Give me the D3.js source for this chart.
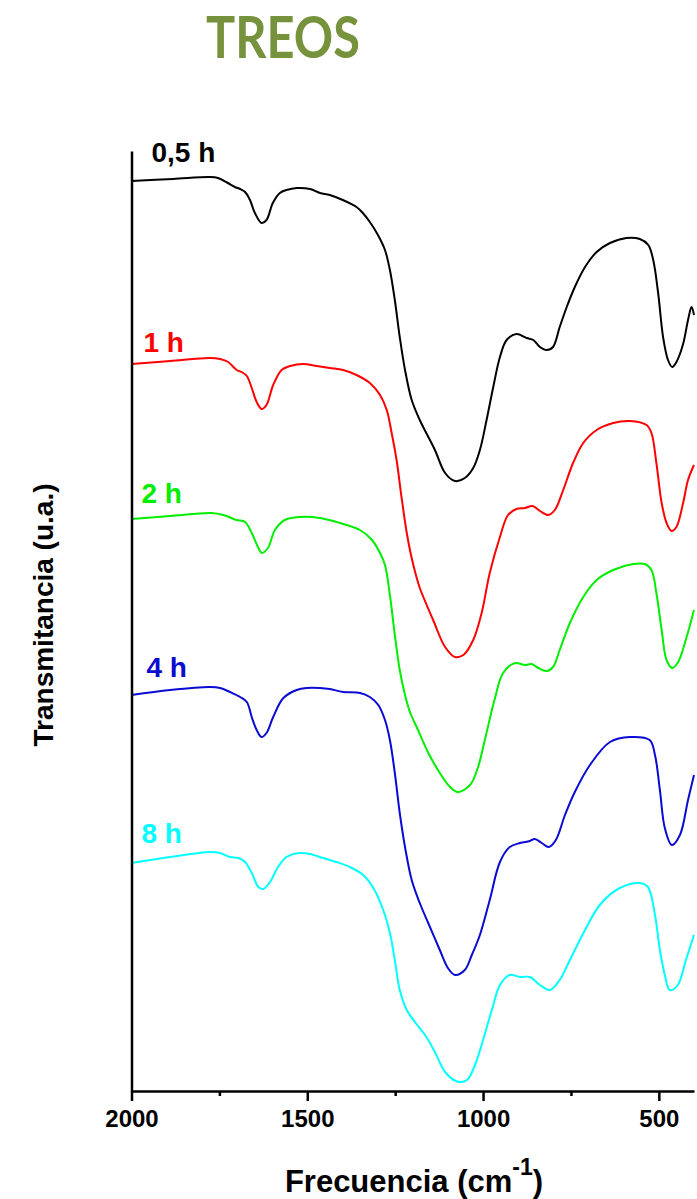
<!DOCTYPE html>
<html>
<head>
<meta charset="utf-8">
<script src="https://cdn.jsdelivr.net/npm/d3@7"></script>
<style>
  html, body { margin: 0; padding: 0; background: #ffffff; }
  svg { display: block; }
</style>
</head>
<body>
<svg id="chart" width="697" height="1199"></svg>
<script>
// FTIR spectra, TREOS samples at different times
// each series: [wavenumber (cm-1), transmittance (a.u., stacked offset)]
const seriesNames = ["0,5 h", "1 h", "2 h", "4 h", "8 h"];

const s05 = [
  [2000, 91.0], [1882, 91.2], [1777, 91.4], [1754, 91.3], [1726, 90.8], [1706, 90.4],
  [1691, 90.2], [1677, 89.9], [1663, 89.1], [1649, 87.8], [1630, 86.8], [1616, 87.1],
  [1598, 88.8], [1578, 89.8], [1559, 90.1], [1530, 90.3], [1492, 90.2], [1464, 89.8],
  [1436, 89.6], [1399, 89.1], [1360, 88.4], [1342, 87.8], [1322, 86.9], [1299, 85.6],
  [1279, 84.1], [1265, 82.1], [1251, 79.1], [1237, 75.4], [1222, 72.1], [1203, 69.1],
  [1180, 67.1], [1137, 64.1], [1108, 61.8], [1080, 61.0], [1052, 61.3], [1028, 62.3],
  [1009, 64.1], [990, 67.1], [971, 70.4], [952, 73.4], [933, 75.1], [905, 75.7],
  [876, 75.3], [857, 75.1], [838, 74.4], [819, 74.1], [801, 74.4], [782, 76.4],
  [762, 78.4], [739, 80.4], [710, 82.4], [677, 83.9], [639, 84.8], [592, 85.3],
  [554, 85.2], [530, 84.6], [516, 83.1], [502, 79.8], [488, 75.4], [474, 73.1],
  [462, 72.4], [450, 72.9], [431, 74.7], [417, 77.1], [407, 78.4], [400, 77.6]
];

const s1 = [
  [2000, 72.7], [1890, 73.0], [1777, 73.3], [1748, 73.2], [1725, 72.9], [1701, 72.1],
  [1687, 71.9], [1672, 71.5], [1658, 70.3], [1644, 68.9], [1630, 68.2], [1616, 68.6],
  [1597, 70.6], [1573, 72.1], [1549, 72.5], [1511, 72.7], [1473, 72.5], [1436, 72.3],
  [1398, 72.1], [1360, 71.6], [1322, 70.8], [1293, 69.6], [1274, 68.1], [1260, 65.8],
  [1246, 63.1], [1232, 59.4], [1217, 55.8], [1205, 53.6], [1191, 51.6], [1180, 50.3],
  [1142, 47.1], [1108, 44.4], [1080, 43.4], [1056, 43.6], [1028, 45.1], [1004, 47.8],
  [981, 51.8], [952, 55.4], [929, 57.6], [905, 58.2], [881, 58.3], [859, 58.5],
  [838, 58.0], [815, 57.6], [796, 58.1], [772, 60.1], [744, 62.8], [715, 64.8],
  [677, 66.1], [630, 66.8], [582, 67.0], [535, 66.6], [521, 65.8], [507, 62.8],
  [492, 58.8], [478, 56.8], [464, 56.0], [450, 56.4], [431, 58.8], [417, 61.1], [400, 62.6]
];

const s2 = [
  [2000, 57.2], [1890, 57.5], [1772, 57.8], [1739, 57.6], [1701, 57.1], [1677, 56.9],
  [1658, 55.8], [1639, 54.3], [1629, 53.8], [1612, 54.3], [1592, 56.1], [1564, 57.1],
  [1521, 57.4], [1464, 57.3], [1407, 56.8], [1350, 56.1], [1316, 55.1], [1293, 53.8],
  [1279, 52.6], [1265, 49.6], [1251, 45.6], [1237, 42.1], [1222, 39.6], [1208, 37.9],
  [1185, 36.1], [1157, 33.9], [1123, 31.8], [1094, 30.4], [1072, 29.9], [1037, 30.6],
  [1015, 32.3], [995, 35.1], [966, 39.3], [943, 41.8], [909, 42.8], [881, 42.6],
  [862, 42.7], [843, 42.3], [819, 42.0], [801, 42.4], [782, 44.1], [753, 46.8],
  [715, 49.4], [677, 51.1], [630, 52.1], [573, 52.7], [540, 52.7], [521, 52.1],
  [507, 49.8], [492, 46.1], [478, 43.1], [462, 42.3], [445, 42.9], [421, 45.4], [400, 48.1]
];

const s4 = [
  [2000, 39.6], [1890, 40.1], [1777, 40.4], [1748, 40.3], [1720, 39.9], [1691, 39.4],
  [1672, 38.9], [1658, 37.4], [1644, 36.1], [1630, 35.4], [1616, 35.8], [1597, 37.4],
  [1568, 39.3], [1530, 40.1], [1502, 40.3], [1464, 40.3], [1436, 40.2], [1398, 39.9],
  [1350, 39.8], [1322, 39.4], [1298, 38.6], [1279, 37.1], [1265, 35.1], [1251, 31.8],
  [1237, 27.8], [1222, 24.4], [1203, 21.1], [1180, 18.8], [1156, 16.8], [1123, 14.1],
  [1100, 12.3], [1080, 11.6], [1052, 12.1], [1032, 13.6], [1009, 15.6], [981, 19.1],
  [952, 22.9], [924, 24.4], [895, 24.8], [867, 25.0], [853, 25.2], [833, 24.8],
  [813, 24.4], [793, 25.1], [767, 27.6], [739, 29.9], [696, 32.6], [639, 34.9],
  [582, 35.4], [526, 35.1], [511, 33.6], [497, 30.1], [483, 26.3], [463, 24.6],
  [440, 25.6], [417, 29.1], [400, 31.6]
];

const s8 = [
  [2000, 22.8], [1890, 23.4], [1777, 23.9], [1748, 23.8], [1720, 23.4], [1696, 23.3],
  [1677, 22.9], [1658, 21.8], [1639, 20.4], [1625, 20.2], [1606, 20.9], [1583, 22.4],
  [1559, 23.4], [1521, 23.8], [1492, 23.7], [1455, 23.3], [1417, 22.9], [1379, 22.4],
  [1341, 21.6], [1312, 20.3], [1284, 18.1], [1265, 15.8], [1251, 13.1], [1237, 10.1],
  [1217, 8.1], [1194, 6.9], [1165, 5.6], [1137, 3.9], [1108, 1.9], [1074, 0.95],
  [1046, 1.1], [1023, 2.6], [1000, 5.1], [975, 8.1], [952, 10.6], [924, 11.6],
  [895, 11.4], [867, 11.4], [838, 10.6], [810, 10.1], [782, 11.1], [753, 13.1],
  [710, 16.1], [668, 18.6], [611, 20.3], [554, 20.8], [531, 20.4], [511, 17.6],
  [497, 14.1], [483, 11.6], [469, 10.1], [446, 10.6], [423, 13.1], [400, 15.6]
];

const seriesData = [s05, s1, s2, s4, s8];
const majorTicks = [2000, 1500, 1000, 500];
const minorTicks = [1750, 1250, 750];

// ---- layout ----
const svg = d3.select("#chart");
const colors = ["#000000", "#ff0000", "#00ee00", "#0a0ad2", "#00ffff"];
const fontArial = "'Liberation Sans', Arial, sans-serif";

const x = d3.scaleLinear().domain([2000, 400]).range([131.5, 694]);
const y = d3.scaleLinear().domain([0, 94]).range([1091, 151]);

// title, narrowed horizontally to a fixed width
const titleG = svg.append("g");
const title = titleG.append("text")
  .attr("x", 0).attr("y", 0)
  .attr("text-anchor", "middle")
  .attr("font-family", "Lato, 'Open Sans', sans-serif")
  .attr("font-weight", 700)
  .attr("font-size", 57)
  .attr("fill", "#76923c")
  .text("TREOS");
const titleW = title.node().getComputedTextLength() || 154;
titleG.attr("transform", `translate(283,58) scale(${154 / titleW},1)`);

// spectra
const line = d3.line()
  .x(d => x(d[0]))
  .y(d => y(d[1]))
  .curve(d3.curveCatmullRom.alpha(0.5));

svg.append("g")
  .selectAll("path")
  .data(seriesData)
  .join("path")
  .attr("d", line)
  .attr("fill", "none")
  .attr("stroke", (d, i) => colors[i])
  .attr("stroke-width", 2)
  .attr("stroke-linejoin", "round");

// series labels, placed above the start of each trace
const labelOffsets = [[20, 19], [12, 12], [10, 16], [15, 18], [10, 20]];
svg.append("g")
  .selectAll("text")
  .data(seriesData)
  .join("text")
  .attr("x", (d, i) => x(d[0][0]) + labelOffsets[i][0])
  .attr("y", (d, i) => y(d[0][1]) - labelOffsets[i][1])
  .attr("font-family", fontArial)
  .attr("font-weight", 700)
  .attr("font-size", 28)
  .attr("fill", (d, i) => colors[i])
  .text((d, i) => seriesNames[i]);

// axes
const xAxis = svg.append("g")
  .attr("transform", `translate(0,${y(0)})`)
  .call(d3.axisBottom(x).tickValues(majorTicks).tickSize(10).tickSizeOuter(0)
    .tickFormat(d3.format("d")));
xAxis.select(".domain").attr("stroke-width", 2.5);
xAxis.selectAll(".tick line").attr("stroke-width", 2.5);
xAxis.selectAll(".tick text")
  .attr("font-family", fontArial)
  .attr("font-weight", 700)
  .attr("font-size", 24)
  .attr("fill", "#000")
  .attr("dy", 0)
  .attr("y", 36);

const xMinor = svg.append("g")
  .attr("transform", `translate(0,${y(0)})`)
  .call(d3.axisBottom(x).tickValues(minorTicks).tickSize(5).tickSizeOuter(0).tickFormat(""));
xMinor.select(".domain").remove();
xMinor.selectAll(".tick line").attr("stroke-width", 2.5);

const yAxis = svg.append("g")
  .attr("transform", `translate(${x(2000)},0)`)
  .call(d3.axisLeft(y).ticks(0).tickSizeOuter(0));
yAxis.select(".domain").attr("stroke-width", 2.5);

// axis titles
const xTitle = svg.append("text")
  .attr("x", 414).attr("y", 1192)
  .attr("text-anchor", "middle")
  .attr("font-family", fontArial)
  .attr("font-weight", 700)
  .attr("font-size", 31)
  .attr("fill", "#000");
xTitle.append("tspan").text("Frecuencia (cm");
xTitle.append("tspan").attr("font-size", 23).attr("dy", -17).text("-1");
xTitle.append("tspan").attr("dy", 17).text(")");

svg.append("text")
  .attr("transform", "translate(53,615) rotate(-90)")
  .attr("text-anchor", "middle")
  .attr("font-family", fontArial)
  .attr("font-weight", 700)
  .attr("font-size", 28)
  .attr("fill", "#000")
  .text("Transmitancia (u.a.)");
</script>
</body>
</html>
